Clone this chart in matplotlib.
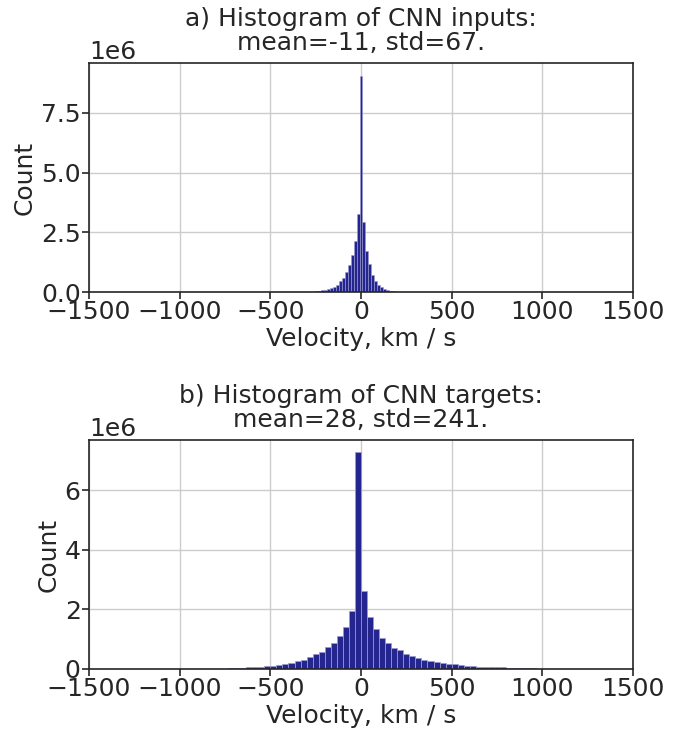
import numpy as np
import matplotlib
matplotlib.use("Agg")
import matplotlib.pyplot as plt

# ---------------- data ----------------
# a) CNN inputs: bin width ~16.5 km/s, bins centred on k*width, k from -16 .. 13
inputs_bin_width = 16.5
inputs_bin_index = list(range(-16, 14))
inputs_counts_1e6 = [0.015, 0.03, 0.045, 0.07, 0.095, 0.13, 0.17, 0.23, 0.31, 0.44,
                     0.60, 0.84, 1.15, 1.54, 2.15, 3.27, 9.06, 2.95, 1.72, 1.18,
                     0.72, 0.47, 0.31, 0.20, 0.14, 0.095, 0.06, 0.035, 0.02, 0.01]

# b) CNN targets: 90 bins over [-1500, 1500]
targets_range = (-1500, 1500)
targets_nbins = 90
targets_first_edge = -800  # left edge of first non-empty bin
targets_counts_1e6 = [
    0.004, 0.01, 0.02, 0.03, 0.04, 0.05, 0.06, 0.07, 0.085, 0.10,
    0.12, 0.16, 0.20, 0.26, 0.31, 0.39, 0.49, 0.58, 0.73, 0.88,
    1.10, 1.41, 1.94, 7.29, 2.63, 1.74, 1.33, 1.05, 0.86, 0.72,
    0.62, 0.51, 0.44, 0.36, 0.30, 0.27, 0.235, 0.21, 0.18, 0.16,
    0.13, 0.11, 0.095, 0.08, 0.07, 0.06, 0.055, 0.05, 0.045, 0.04,
    0.033, 0.027, 0.02, 0.015, 0.008, 0.004, 0.002]

titles = ["a) Histogram of CNN inputs:\nmean=-11, std=67.",
          "b) Histogram of CNN targets:\nmean=28, std=241."]
xlabel = "Velocity, km / s"
ylabel = "Count"
xticks = [-1500, -1000, -500, 0, 500, 1000, 1500]

# ---------------- style ----------------
FS = 18
plt.rcParams['font.family'] = ['DejaVu Sans']
plt.rcParams['font.size'] = FS
text_color = '#262626'
bar_color = '#25258f'

fig = plt.figure(figsize=(6.78, 7.30), dpi=100)
ax1 = fig.add_axes([0.1313, 0.600, 0.8023, 0.3137])
ax2 = fig.add_axes([0.1313, 0.0836, 0.8023, 0.3137])

# inputs histogram
w1 = inputs_bin_width
left1 = np.array(inputs_bin_index) * w1 - w1 / 2
ax1.bar(left1, np.array(inputs_counts_1e6) * 1e6, width=w1, align='edge',
        color=bar_color, edgecolor='#9c9cd0', linewidth=0.4, zorder=2)

# targets histogram
edges2 = np.linspace(targets_range[0], targets_range[1], targets_nbins + 1)
w2 = edges2[1] - edges2[0]
start_idx = int(round((targets_first_edge - targets_range[0]) / w2))
left2 = edges2[start_idx:start_idx + len(targets_counts_1e6)]
ax2.bar(left2, np.array(targets_counts_1e6) * 1e6, width=w2, align='edge',
        color=bar_color, edgecolor='#9c9cd0', linewidth=0.5, zorder=2)

for ax, title in zip([ax1, ax2], titles):
    ax.set_xlim(-1500, 1500)
    ax.set_xticks(xticks)
    ax.set_title(title, fontsize=FS, color=text_color, pad=9, linespacing=1.0)
    ax.set_xlabel(xlabel, fontsize=FS, color=text_color, labelpad=2)
    ax.set_ylabel(ylabel, fontsize=FS, color=text_color, labelpad=3)
    ax.grid(True, color='#cccccc', linewidth=1.0, zorder=0)
    ax.set_axisbelow(True)
    ax.tick_params(axis='both', labelsize=FS, colors=text_color, length=5,
                   width=1.2, direction='out', pad=1)
    for s in ax.spines.values():
        s.set_color(text_color)
        s.set_linewidth(1.2)
    ax.yaxis.get_offset_text().set_fontsize(FS)
    ax.yaxis.get_offset_text().set_color(text_color)

ax1.set_ylim(0, 9.59e6)
ax1.set_yticks([0, 2.5e6, 5.0e6, 7.5e6])
ax2.set_ylim(0, 7.68e6)
ax2.set_yticks([0, 2e6, 4e6, 6e6])

fig.savefig("out.png", dpi=100)
